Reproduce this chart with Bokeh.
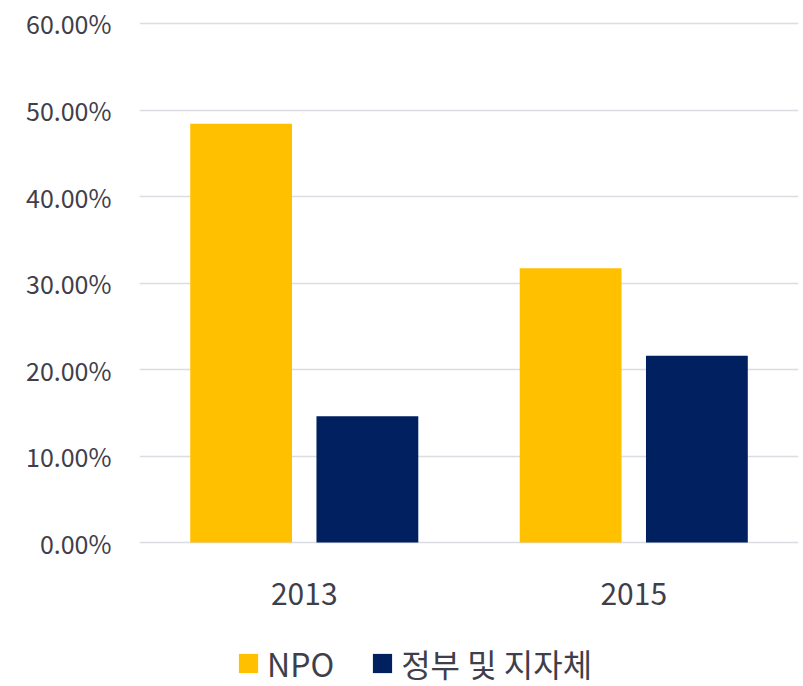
from bokeh.plotting import figure
from bokeh.models import (ColumnDataSource, FactorRange, Range1d, FixedTicker,
                          NumeralTickFormatter, Legend, LegendItem)
from bokeh.transform import dodge
from bokeh.embed import file_html
from bokeh.resources import INLINE

years = ["2013", "2015"]
npo = [0.484, 0.317]
gov = [0.146, 0.216]
series_labels = ["NPO", "정부 및 지자체"]
y_ticks = [0.0, 0.1, 0.2, 0.3, 0.4, 0.5, 0.6]

FONT = "Noto Sans CJK KR"
TXT = "#3f3f4c"

src = ColumnDataSource(dict(year=years, npo=npo, gov=gov))

p = figure(x_range=FactorRange(*years), y_range=Range1d(-0.16647, 0.60578),
           width=803, height=686, output_backend="svg", toolbar_location=None,
           min_border_left=139, min_border_right=5, min_border_top=18, min_border_bottom=0)
p.x_range.range_padding = 0
p.outline_line_color = None
p.background_fill_color = "white"

r1 = p.vbar(x=dodge("year", -0.1916, range=p.x_range), top="npo", bottom=0, width=0.309,
            source=src, fill_color="#FFC000", line_color=None)
r2 = p.vbar(x=dodge("year", 0.1916, range=p.x_range), top="gov", bottom=0, width=0.309,
            source=src, fill_color="#002060", line_color=None)

p.xgrid.grid_line_color = None
p.ygrid.grid_line_color = "#dcdce3"
p.ygrid.grid_line_width = 1.5
p.ygrid.ticker = FixedTicker(ticks=y_ticks)
p.ygrid.level = "underlay"

p.xaxis.fixed_location = 0
p.yaxis.ticker = FixedTicker(ticks=y_ticks)
p.yaxis.formatter = NumeralTickFormatter(format="0.00%")
for ax in (p.xaxis[0], p.yaxis[0]):
    ax.axis_line_color = None
    ax.major_tick_line_color = None
    ax.minor_tick_line_color = None
    ax.major_label_text_font = FONT
    ax.major_label_text_color = TXT
p.yaxis.major_label_text_font_size = "25px"
p.yaxis.major_label_standoff = 22
p.xaxis.major_label_text_font_size = "30px"
p.xaxis.major_label_standoff = 34

legend = Legend(items=[LegendItem(label=series_labels[0], renderers=[r1]),
                       LegendItem(label=series_labels[1], renderers=[r2])],
                orientation="horizontal", location=(97, 0),
                border_line_color=None, background_fill_alpha=0,
                glyph_width=24, glyph_height=24, label_standoff=7,
                spacing=36, padding=0, margin=0,
                label_text_font=FONT, label_text_font_size="32px",
                label_text_color=TXT)
p.add_layout(legend, "center")

open("out.html", "w").write(file_html(p, INLINE))
